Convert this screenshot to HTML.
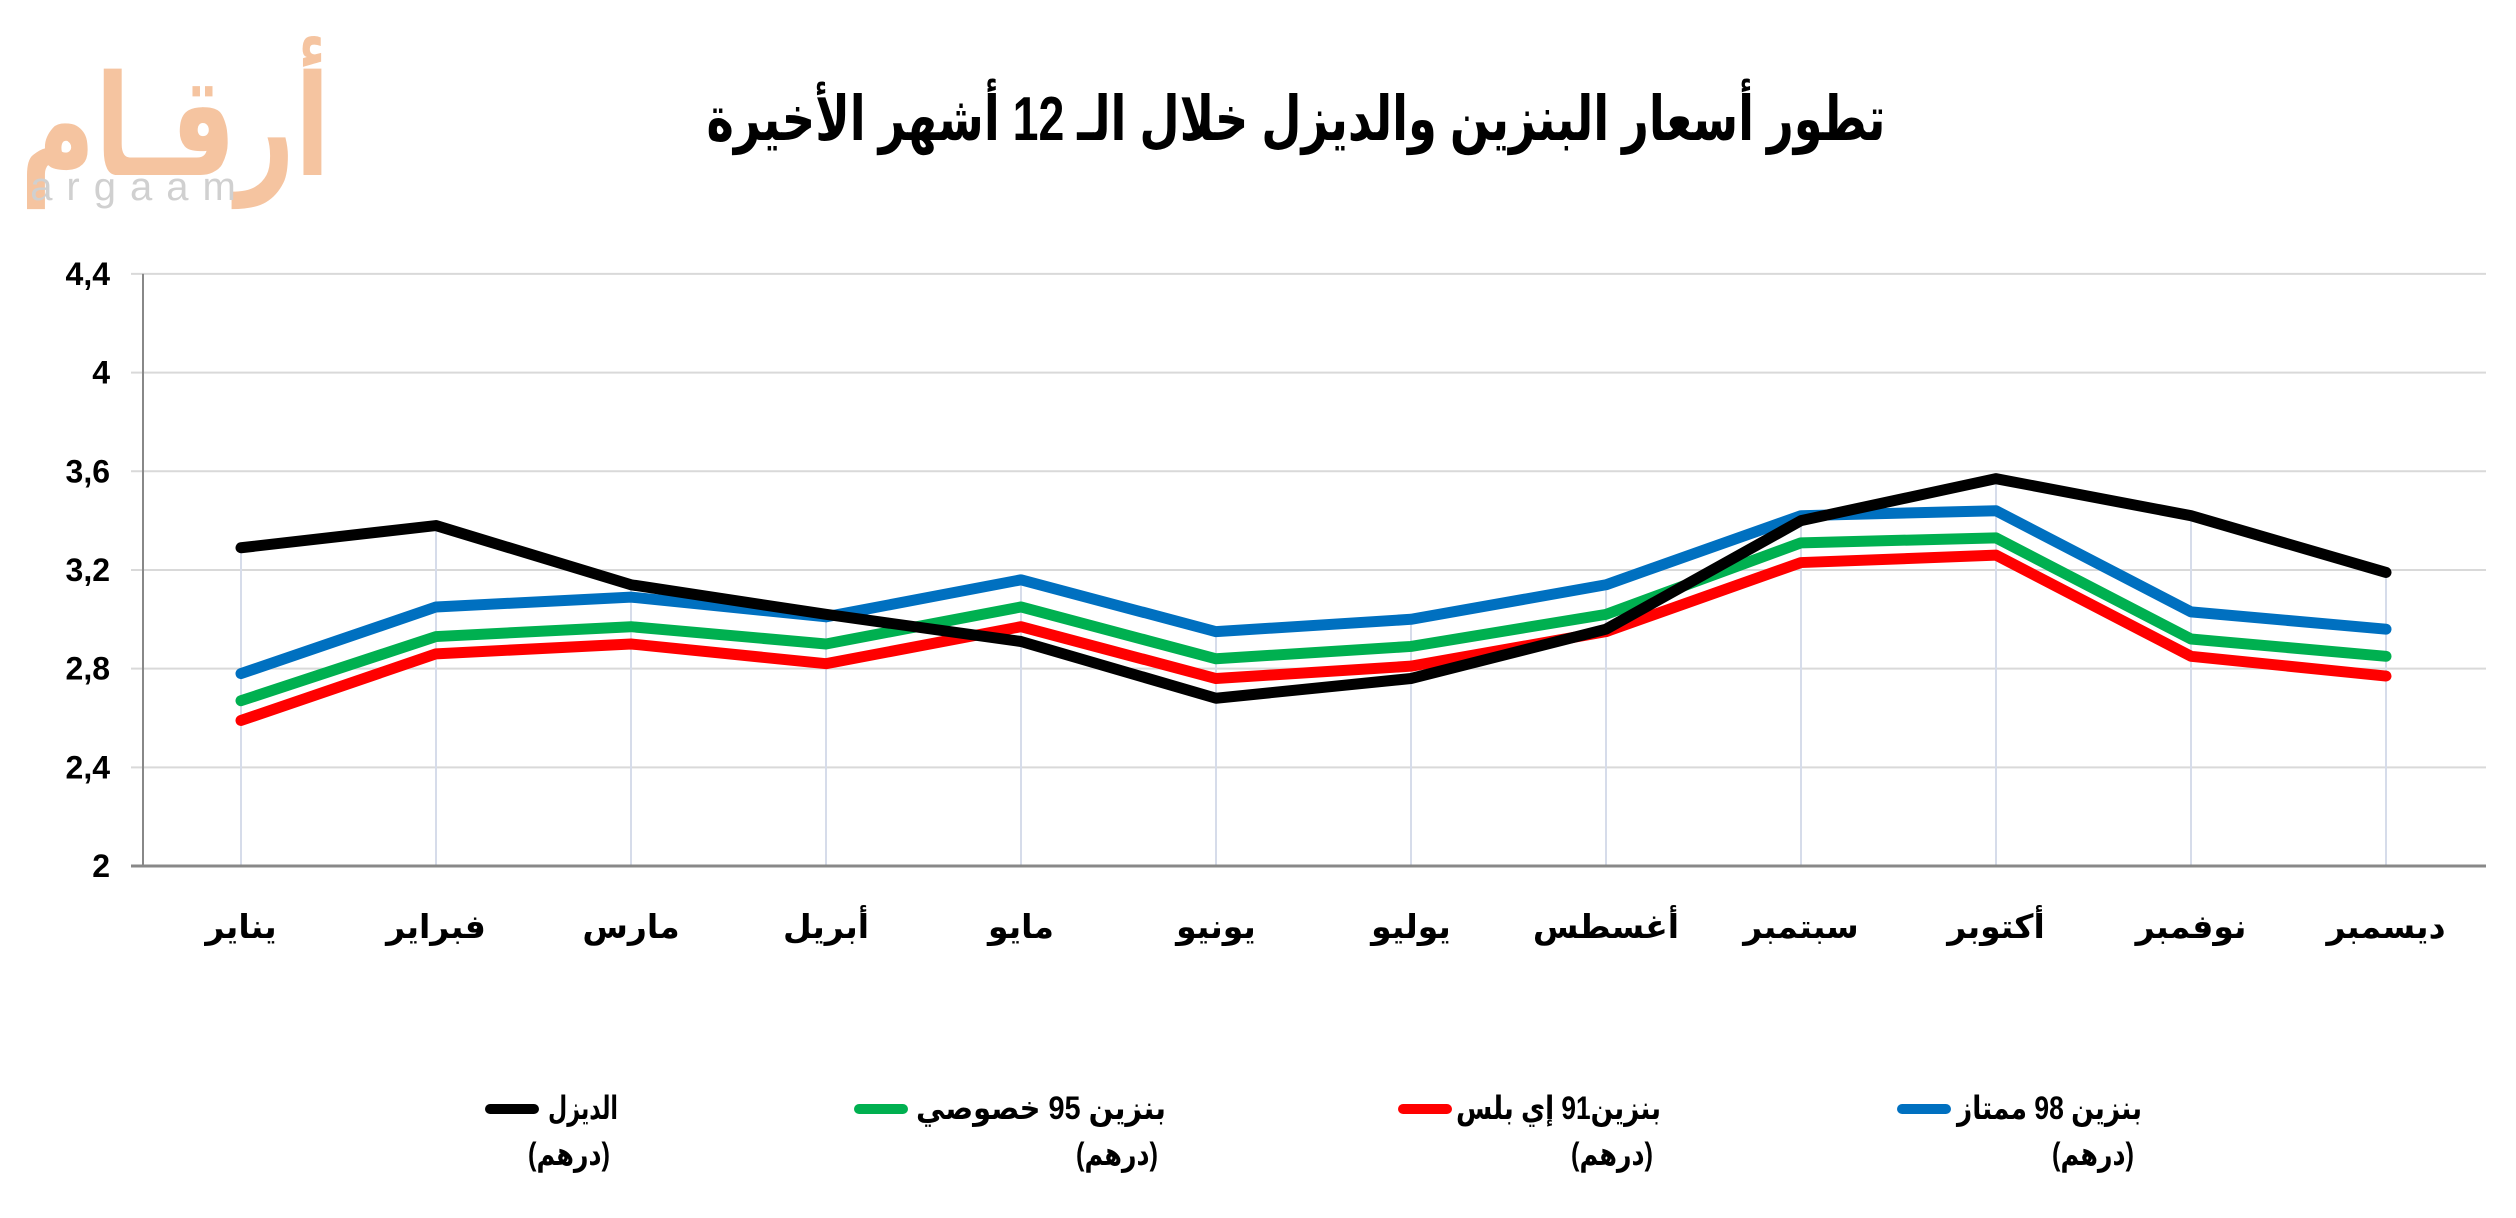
<!DOCTYPE html>
<html><head><meta charset="utf-8"><style>
html,body{margin:0;padding:0;background:#fff;}
body{width:2516px;height:1218px;overflow:hidden;position:relative;font-family:"Liberation Sans","Noto Sans CJK SC",sans-serif;}
</style></head><body>
<svg width="2516" height="1218" xmlns="http://www.w3.org/2000/svg" style="position:absolute;left:0;top:0">
<text x="175" y="175" font-size="140" font-weight="bold" fill="#f5c4a0" text-anchor="middle" textLength="310" lengthAdjust="spacingAndGlyphs" font-family="DejaVu Sans, sans-serif">أرقـام</text>
<text x="140" y="200" font-size="40" fill="#d0d0d0" text-anchor="middle" letter-spacing="14" font-family="Liberation Sans, sans-serif">argaam</text>
<text x="1296" y="140" font-size="62" font-weight="bold" fill="#000" text-anchor="middle" textLength="1179" lengthAdjust="spacingAndGlyphs" font-family="Liberation Sans, DejaVu Sans, sans-serif">تطور أسعار البنزين والديزل خلال الـ 12 أشهر الأخيرة</text>
<g id="grid"></g>
<g id="series"></g>
<g id="legend" font-size="32" font-weight="bold" font-family="Liberation Sans, DejaVu Sans, sans-serif"></g>
</svg>
<script>
const NS="http://www.w3.org/2000/svg";
const grid=document.getElementById('grid'),ser=document.getElementById('series'),leg=document.getElementById('legend');
function el(p,t,a,txt){const e=document.createElementNS(NS,t);for(const k in a)e.setAttribute(k,a[k]);if(txt)e.textContent=txt;p.appendChild(e);return e;}
const X0=143,X1=2486,Y=v=>866-(v-2)*246.7,MX=i=>241+195*i;
[2.4,2.8,3.2,3.6,4,4.4].forEach(v=>el(grid,'line',{x1:131,x2:X1,y1:Y(v),y2:Y(v),stroke:'#d9d9d9','stroke-width':2}));
['2','2,4','2,8','3,2','3,6','4','4,4'].forEach((t,i)=>el(grid,'text',{x:110,y:Y(2+0.4*i)+11,'font-size':32,'font-weight':'bold','text-anchor':'end'},t));
const d={k:[3.29,3.38,3.14,3.02,2.91,2.68,2.76,2.96,3.40,3.57,3.42,3.19],
b:[2.78,3.05,3.09,3.01,3.16,2.95,3.00,3.14,3.42,3.44,3.03,2.96],
g:[2.67,2.93,2.97,2.90,3.05,2.84,2.89,3.02,3.31,3.33,2.92,2.85],
r:[2.59,2.86,2.90,2.82,2.97,2.76,2.81,2.95,3.23,3.26,2.85,2.77]};
const months=['يناير','فبراير','مارس','أبريل','مايو','يونيو','يوليو','أغسطس','سبتمبر','أكتوبر','نوفمبر','ديسمبر'];
for(let i=0;i<12;i++){const top=Math.max(d.k[i],d.b[i]);
el(grid,'line',{x1:MX(i),x2:MX(i),y1:Y(top),y2:866,stroke:'#d6dcea','stroke-width':2});
el(grid,'text',{x:MX(i),y:938,'font-size':33,'font-weight':'bold','text-anchor':'middle','font-family':'Liberation Sans, DejaVu Sans, sans-serif'},months[i]);}
el(grid,'line',{x1:X0,x2:X0,y1:Y(4.4),y2:866,stroke:'#888','stroke-width':2});
el(grid,'line',{x1:131,x2:X1,y1:866,y2:866,stroke:'#888','stroke-width':3});
[['r','#ff0000'],['g','#00b050'],['b','#0070c0'],['k','#000000']].forEach(([k,c])=>{
el(ser,'polyline',{points:d[k].map((v,i)=>MX(i)+','+Y(v)).join(' '),fill:'none',stroke:c,'stroke-width':11,'stroke-linecap':'round','stroke-linejoin':'round'});});
const L=[[486,618,'#000','الديزل',70],[855,1166,'#00b050','بنزين 95  خصوصي',250],[1399,1661,'#ff0000','بنزين91 إي بلس',205],[1898,2142,'#0070c0','بنزين 98 ممتاز',185]];
L.forEach(([lx,tx,c,t,w])=>{
el(leg,'line',{x1:lx+4,x2:lx+48,y1:1109,y2:1109,stroke:c,'stroke-width':10,'stroke-linecap':'round'});
el(leg,'text',{x:tx-w,y:1119,textLength:w,lengthAdjust:'spacingAndGlyphs'},t);
el(leg,'text',{x:tx-8-82,y:1165,textLength:82,lengthAdjust:'spacingAndGlyphs'},'(درهم)');});
</script>
</body></html>
